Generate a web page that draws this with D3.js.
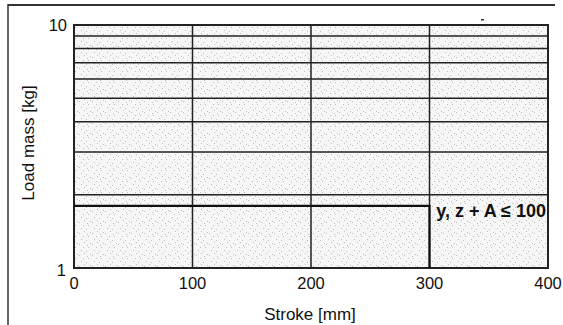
<!DOCTYPE html>
<html><head><meta charset="utf-8">
<script src="https://cdn.jsdelivr.net/npm/d3@7"></script>
<style>body{margin:0;background:#fff}svg{display:block;font-family:"Liberation Sans",Arial,sans-serif}</style>
</head><body><svg id="c" width="563" height="325"></svg>
<script>
const xTicks = [0, 100, 200, 300, 400];
const yTicks = [1, 10];
const yGrid = [2, 3, 4, 5, 6, 7, 8, 9];
const xGrid = [100, 200, 300];
const limitStroke = [0, 300, 300];
const limitMass = [1.8, 1.8, 1];
const annotation = "y, z + A \u2264 100";

const svg = d3.select("#c");
const L = 74, R = 548, T = 25, B = 268;
const x = d3.scaleLinear().domain([0, 400]).range([L, R]);
const y = d3.scaleLog().domain([1, 10]).range([B, T]);

// stipple pattern
const defs = svg.append("defs");
const pat = defs.append("pattern").attr("id","st").attr("patternUnits","userSpaceOnUse").attr("width",13).attr("height",11);
pat.append("rect").attr("width",13).attr("height",11).attr("fill","#f6f6f6");
[[1,2],[6,0],[10,5],[3,8],[8,9],[12,1],[5,5],[9,3]].forEach(([a,b])=>pat.append("rect").attr("x",a).attr("y",b).attr("width",1).attr("height",1).attr("fill","#bdbdbd"));

// figure frame
svg.append("line").attr("x1",8).attr("x2",555).attr("y1",5).attr("y2",5).attr("stroke","#333").attr("stroke-width",2);
svg.append("line").attr("x1",8).attr("x2",8).attr("y1",4).attr("y2",325).attr("stroke","#333").attr("stroke-width",1.5);

svg.append("rect").attr("x",L).attr("y",T).attr("width",R-L).attr("height",B-T).attr("fill","url(#st)");

const g = svg.append("g");
g.selectAll(".hg").data(yGrid).join("line")
  .attr("x1",L).attr("x2",R).attr("y1",d=>y(d)).attr("y2",d=>y(d))
  .attr("stroke","#222").attr("stroke-width",1.5);
g.selectAll(".vg").data(xGrid).join("line")
  .attr("y1",T).attr("y2",B).attr("x1",d=>x(d)).attr("x2",d=>x(d))
  .attr("stroke","#222").attr("stroke-width",1.5);

svg.append("rect").attr("x",L).attr("y",T).attr("width",R-L).attr("height",B-T)
  .attr("fill","none").attr("stroke","#222").attr("stroke-width",2);

// limit line
const line = d3.line().x(d=>x(d[0])).y(d=>y(d[1]));
svg.append("path").datum(limitStroke.map((s,i)=>[s,limitMass[i]]))
  .attr("d",line).attr("fill","none").attr("stroke","#111").attr("stroke-width",2.2);

// annotation
svg.append("text").attr("x",x(400)-2).attr("y",y(1.8)+11).attr("text-anchor","end")
  .attr("font-weight","bold").attr("font-size",18).attr("fill","#111").text(annotation);

// small mark
svg.append("rect").attr("x",481).attr("y",19).attr("width",3).attr("height",1.5).attr("fill","#333");

// axes labels
svg.selectAll(".xt").data(xTicks).join("text")
  .attr("x",d=>x(d)).attr("y",289).attr("text-anchor","middle")
  .attr("font-size",16.5).attr("fill","#111").text(d=>d);
svg.selectAll(".yt").data(yTicks).join("text")
  .attr("x",d=>d===1?66:67).attr("y",d=>d===1?276:31).attr("text-anchor","end")
  .attr("font-size",16.5).attr("fill","#111").text(d=>d);

svg.append("text").attr("x",310).attr("y",320).attr("text-anchor","middle")
  .attr("font-size",17).attr("fill","#111").text("Stroke [mm]");
svg.append("text").attr("transform","translate(34,143) rotate(-90)").attr("text-anchor","middle")
  .attr("font-size",17).attr("fill","#111").text("Load mass [kg]");
</script></body></html>
